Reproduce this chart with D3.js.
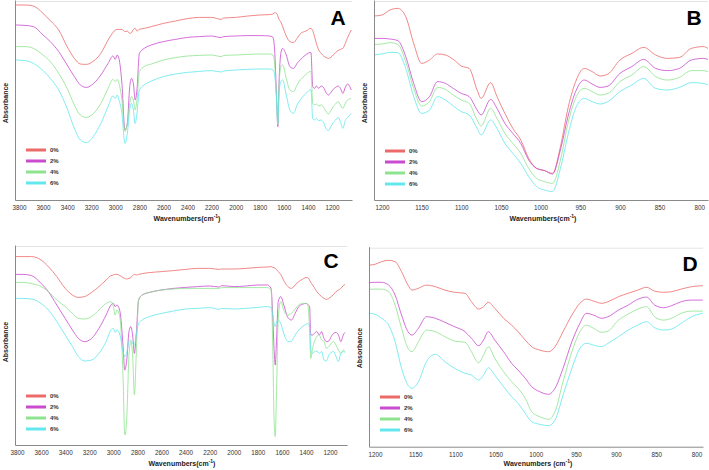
<!DOCTYPE html>
<html>
<head>
<meta charset="utf-8">
<script src="https://cdn.jsdelivr.net/npm/d3@7"></script>
<style>
body { margin: 0; background: #fff; }
svg { display: block; font-family: "Liberation Sans", Arial, sans-serif; }
</style>
</head>
<body>
<svg width="709" height="470"></svg>
<script>
// FTIR spectra, absorbance in arbitrary units (0-100), wavenumbers in cm-1
var series = ["0%", "2%", "4%", "6%"];
var colors = ["#ec6a6a", "#c94bd0", "#8ee48e", "#62e7ee"];

var ticksWide = [3800, 3600, 3400, 3200, 3000, 2800, 2600, 2400, 2200, 2000, 1800, 1600, 1400, 1200];
var ticksNarrow = [1200, 1150, 1100, 1050, 1000, 950, 900, 850, 800];

// panel A
var wnA = [3833,3750,3680,3600,3540,3470,3400,3340,3290,3240,3180,3120,3060,3020,3000,2985,2970,2945,2920,2900,2880,2865,2850,2835,2820,2800,2760,2700,2600,2500,2400,2300,2200,2120,2100,2000,1900,1800,1720,1690,1675,1660,1650,1640,1625,1610,1580,1550,1520,1490,1460,1430,1400,1385,1375,1360,1345,1330,1310,1290,1270,1250,1230,1210,1190,1170,1150,1130,1110,1090,1070,1040];
var a0 = [97.5,97.5,97,93.3,89.7,85,76.7,70.8,68,67.8,69.5,73.3,80,83.7,85,85.3,85.3,85.3,84.2,84.5,83.3,83.7,85.3,85.8,84.5,85.3,85.8,86.7,88.3,89.5,90.7,91.3,91.3,90.3,91,91.3,92,92.5,92.7,93,93.7,93.3,92,90.3,89,86.7,82,79.2,78.7,80.8,83.3,84.2,85,85.8,85.8,84.7,81.7,78.3,75,73.3,72,71.3,70.8,71.3,72.5,73.7,74.7,75.3,75.8,78.3,81.3,85];
var a2 = [87.5,87.3,86.7,82.5,79.2,74.2,67.5,61.7,57.5,56.3,58.3,62.5,68.3,72,70.3,72.5,70.8,58.3,35,38.3,56.7,60.8,58.3,50,55,73.3,75.8,77.5,79.2,80.3,81.3,81.7,82,81.2,81.7,82,82.2,82.2,82,81.3,73.3,50,36.7,58.3,73.3,75.8,72.5,66.7,65.8,68.3,70.3,72,73.3,73.7,73.7,56.7,55.8,57,55.8,57,56.3,53.7,52.5,53.7,55.3,56.3,57,55.8,53.3,56.3,58,55];
var a4 = [76.7,76.7,75.8,72.5,69.2,63.3,55.8,47.5,42.5,41.3,43.3,48.3,55.8,60.3,59.2,60.3,58.3,50,34.2,38.3,48.3,51.7,50,45,50,64.2,66.7,68,70,71.2,72,72.3,72.5,71.7,72.3,72.5,72.8,73,73,72.5,66.7,50,37.5,56.7,66.7,67.5,60.8,55,54.2,57.5,60.3,62,63.7,64.2,64.2,48.3,47.5,48,47,47.5,46.3,44.2,43,44.7,46.7,48,49.2,47.5,45.8,48.3,50,50.8];
var a6 = [70,69.7,68.3,64.7,60.8,55,45.8,35.8,30,28.7,32,38.3,46.7,52,50.8,52.5,50,43.3,28.3,33.3,45,48.3,45,38.3,43.3,55,57.5,59.5,61.7,63,63.8,64.3,64.7,64,64.5,65,65.3,65.5,65.5,65,61.7,50,38.3,53.3,59.2,60,52.5,45,43.3,47.5,50.3,52.5,54.2,55,55,40.8,40,40.8,39.7,40,38.7,35.8,34.7,36.7,38.7,40,41.3,39.2,35.8,39.7,41.3,43.3];

// panel B
var wnB = [1210,1200,1190,1180,1170,1160,1150,1140,1130,1120,1110,1100,1090,1080,1075,1063,1055,1045,1035,1025,1015,1005,995,985,975,965,955,945,935,925,915,900,885,870,855,840,825,810,795,789];
var b0 = [92,92.5,95,95.8,91.7,78.3,68.3,70,73,72.5,70.3,67,65.8,55,50.8,58.7,51.7,43.3,35.8,30,20.8,15.8,14.7,13.3,26.7,46.7,60,65.8,64.2,62,63,70,73.3,76.3,72.5,70.8,71.3,75.8,76.7,75.8];
var b2 = [80.8,80.8,80.5,79.7,71.7,58.3,49.2,51.7,59.2,58.3,55.8,53.3,51.7,45,42.5,50.3,45.8,38.3,33.3,28.3,20,15.8,14.7,13,25,42.5,55,60,58,56.3,57,63.3,66.7,70.3,65.8,64.7,65.8,70,70.8,70.3];
var b4 = [77.8,78,78.7,77.8,69.2,55.8,47,49.2,56.3,55.3,52.5,50,48.3,40,37,45.8,40.8,33.3,28.3,23.3,15.8,10.8,9.2,8.3,20,39.2,51.7,55.8,54.2,52.5,53.3,59.2,62.5,66.7,61.7,60,61.3,64.7,64.7,64.2];
var b6 = [72.5,73,73.8,73.7,65.8,51.7,43.3,45,51.7,50,47,44.2,42.5,35.8,32.5,40,35.8,28.3,23.3,18.3,11.7,6.7,5,4.2,15.8,33.3,46.7,50.8,49.2,48,49.2,54.2,57.5,60.8,55.8,55,56.3,58.7,58.3,57.5];

// panel C
var wnC = [3817,3750,3680,3600,3540,3470,3400,3340,3290,3240,3180,3120,3060,3020,3000,2985,2970,2945,2920,2905,2890,2870,2855,2840,2825,2810,2790,2760,2700,2600,2500,2400,2300,2200,2120,2100,2000,1900,1800,1720,1690,1675,1665,1655,1645,1630,1610,1580,1550,1520,1490,1460,1430,1400,1385,1370,1360,1345,1330,1310,1290,1270,1250,1230,1210,1190,1170,1150,1130,1110,1090,1075];
var c0 = [94.2,94.2,94.2,92.5,89.2,84.2,78.3,75,73.8,74.2,76.3,79.2,82.5,84.7,85,85.3,85.3,84.7,83.7,83.3,83,83.3,83.7,84.7,85.3,85,85.3,85.7,86.2,86.7,87.2,87.8,88.3,88.3,87.8,88,88,88.3,88.8,89,89.2,88.8,88.7,88.3,87.8,86.7,85.3,81.7,79.2,78.3,80,81.7,82.8,83.7,83.7,82.5,81.3,80,78.7,76.7,75.3,74.2,73.3,72.8,73.3,74.2,75.3,76.7,77.5,78.3,79.7,80.3];
var c2 = [85.3,85.3,84.7,80.8,76.7,70,63.3,57.5,53.3,51.7,53.3,58.3,65,70,70.8,69.2,70,66.7,50,37.5,41.7,56.7,59.2,55,45.8,55,72.5,75,76.3,77.5,78.3,78.8,79.2,79.5,79,79.7,79.2,79.5,80,80,78.3,63.3,48.3,40,51.7,71.7,74.2,69.2,63.7,62.5,65.8,69.2,70.3,70.8,70.3,69.2,55,55,55.8,56.7,55,56.7,53.3,51.7,52,54.2,55.8,56.3,55,51.7,55,56.3];
var c4 = [81.3,81.3,80.7,79.2,76.7,72.5,69.2,65.8,63.3,63,64.2,67.5,70.8,71.7,69.2,65,67.5,63.3,35,5,11.7,45,51.7,45,25,45,72.5,75,76.3,77.5,78,78.3,78.3,78.3,78.3,78.7,78.7,78.7,78.7,78.7,77.5,46.7,13.3,4.2,25,63.3,71.7,66.7,65,65.8,68,70,70.8,70.8,70,58.3,43.3,48.3,51.7,54.2,55,52.5,51.7,48.3,49.2,50.8,51.7,50,47.5,45.8,47.5,46.7];
var c6 = [73.3,73.3,73,70.8,67.5,61.7,55,49.2,44.2,42,42.5,45.8,51.7,57.5,58.3,56.3,57.5,55,46.7,44.2,45.8,51.7,52.5,50.8,50,55,60.8,62.5,64.2,65.8,67,68,68.3,68.7,67.8,68.3,68,68.3,68.8,69.2,68.7,65,60.8,59.2,61.3,62.5,60.8,55,51.7,52,55,57.5,59.2,60.3,60.8,59.2,47.5,45.8,46.7,47,45.8,46.7,42.5,42,45,46.3,46.7,44.2,41.7,45.8,46.7,46.3];

// panel D
var wnD = [1207,1200,1192,1183,1175,1167,1159,1154,1146,1136,1125,1113,1101,1088,1080,1071,1065,1059,1051,1040,1030,1022,1013,1005,995,984,976,966,955,945,937,928,918,910,897,885,873,862,852,841,831,819,806,792];
var d0 = [90.8,91.2,92.5,93.2,92.5,87.5,80.8,78.3,79.2,80.8,80,78.3,77.2,76.7,72.5,68.8,70,72.2,69.2,64.2,60.8,57.5,53.3,50,48.3,47.5,50,57.5,65.8,71.7,73.8,72.8,71.7,72.5,75,76.7,78.3,79.7,77.8,77.2,77.5,78.8,80,80.5];
var d2 = [82,82.2,82.2,80.8,75.8,65.8,57.5,55.8,59.2,65,64.2,62.2,60,57.5,54.2,50.5,53.3,57.5,53.3,47.5,41.7,38.3,34.2,30,27.5,26.2,29.2,39.2,52.5,61.7,66.7,65.8,64.2,65,68.3,70.8,73.7,74.8,70.8,69.5,70.5,72.5,73.3,73.3];
var d4 = [78.7,78.8,78.8,77.5,70.8,59.2,49.2,47.5,52.5,58.3,57.5,55,52.8,52.2,47.5,42,45.8,50,44.2,37.5,32.5,29.2,24.2,17.5,15,13.7,17.5,32.5,47.5,57.5,60.8,59.2,57.2,57.8,63.3,66.3,68.8,70,65,63.3,64.2,66.7,67.8,67.8];
var d6 = [66.7,66.2,64.2,60.8,52.5,39.2,30.8,29.2,32.5,42.5,46.2,42.5,39.2,36.7,35.8,33.3,35.8,39.5,35.8,30,25,21.7,16.7,12.5,11.2,10.5,13.3,25.8,39.2,49.2,51.7,50.8,50,51.7,55,58.3,60.8,62.5,59.5,58.3,58.8,61.7,65,66.7];

var svg = d3.select("svg");

var panels = [
    {letter: "A", wn: wnA, ys: [a0, a2, a4, a6], xDomain: [3833, 1034], left: 15, right: 352, top: 0, bottom: 200,
     ticks: ticksWide, title: "Wavenumbers(cm", titleX: 187, titleY: 221, letterX: 338, letterY: 25,
     absX: 8, absY: 103, legX: 26, legY: 150},
    {letter: "B", wn: wnB, ys: [b0, b2, b4, b6], xDomain: [1210, 789], left: 374, right: 708, top: 0, bottom: 200,
     ticks: ticksNarrow, title: "Wavenumbers(cm", titleX: 543, titleY: 221, letterX: 694, letterY: 25,
     absX: 367, absY: 103, legX: 385, legY: 151},
    {letter: "C", wn: wnC, ys: [c0, c2, c4, c6], xDomain: [3817, 1059], left: 15, right: 347, top: 245, bottom: 445,
     ticks: ticksWide, title: "Wavenumbers(cm", titleX: 182, titleY: 466, letterX: 331, letterY: 268,
     absX: 8, absY: 342, legX: 26, legY: 396},
    {letter: "D", wn: wnD, ys: [d0, d2, d4, d6], xDomain: [1207.5, 791.8], left: 369, right: 703, top: 246.7, bottom: 446.7,
     ticks: ticksNarrow, title: "Wavenumbers (cm", titleX: 538, titleY: 466, letterX: 690, letterY: 271,
     absX: 362, absY: 348, legX: 380, legY: 397}
];

panels.forEach(drawPanel);

function drawPanel(p) {
    var g = svg.append("g");

    var x = d3.scaleLinear().domain(p.xDomain).range([p.left, p.right]);
    var y = d3.scaleLinear().domain([0, 100]).range([p.bottom, p.top]);

    // faint frame on top
    g.append("line")
        .attr("x1", p.left).attr("x2", p.right)
        .attr("y1", p.top + 1.5).attr("y2", p.top + 1.5)
        .attr("stroke", "#e4e4e4");

    var line = d3.line()
        .curve(d3.curveMonotoneX)
        .x(function(d, i) { return x(p.wn[i]); })
        .y(function(d) { return y(d); });

    p.ys.forEach(function(vals, k) {
        g.append("path")
            .datum(vals)
            .attr("fill", "none")
            .attr("stroke", colors[k])
            .attr("stroke-opacity", 0.8)
            .attr("stroke-width", 1)
            .attr("d", line);
    });

    var xAxis = g.append("g")
        .attr("transform", "translate(0," + p.bottom + ")")
        .call(d3.axisBottom(x).tickValues(p.ticks).tickSize(0).tickPadding(6).tickFormat(d3.format("d")))
        .attr("font-family", "'Liberation Sans', Arial, sans-serif")
        .attr("font-size", 6.3);
    xAxis.select(".domain").attr("stroke", "#8a8a8a");
    xAxis.selectAll("text").attr("fill", "#333");

    var yAxis = g.append("g")
        .attr("transform", "translate(" + p.left + ",0)")
        .call(d3.axisLeft(y).tickValues([]).tickSizeOuter(0));
    yAxis.select(".domain").attr("stroke", "#8a8a8a");

    // x title with superscript
    var t = g.append("text")
        .attr("x", p.titleX).attr("y", p.titleY)
        .attr("text-anchor", "middle")
        .attr("font-size", 7).attr("font-weight", "bold")
        .attr("fill", "#222")
        .text(p.title);
    t.append("tspan").attr("font-size", 5).attr("dy", -3).text("-1");
    t.append("tspan").attr("dy", 3).text(")");

    g.append("text")
        .attr("transform", "translate(" + p.absX + "," + p.absY + ") rotate(-90)")
        .attr("text-anchor", "middle")
        .attr("font-size", 7).attr("font-weight", "bold")
        .attr("fill", "#222")
        .text("Absorbance");

    g.append("text")
        .attr("x", p.letterX).attr("y", p.letterY)
        .attr("text-anchor", "middle")
        .attr("font-family", "'Liberation Sans', Arial, sans-serif")
        .attr("font-size", 21).attr("font-weight", "bold")
        .attr("fill", "#000")
        .text(p.letter);

    var leg = g.selectAll(".leg")
        .data(series)
        .enter().append("g")
        .attr("transform", function(d, i) { return "translate(" + p.legX + "," + (p.legY + i * 11) + ")"; });
    leg.append("line")
        .attr("x1", 0).attr("x2", 20)
        .attr("stroke", function(d, i) { return colors[i]; })
        .attr("stroke-width", 3);
    leg.append("text")
        .attr("x", 24).attr("dy", "0.35em")
        .attr("font-size", 6).attr("font-weight", "bold")
        .attr("fill", "#333")
        .text(function(d) { return d; });
}
</script>
</body>
</html>
